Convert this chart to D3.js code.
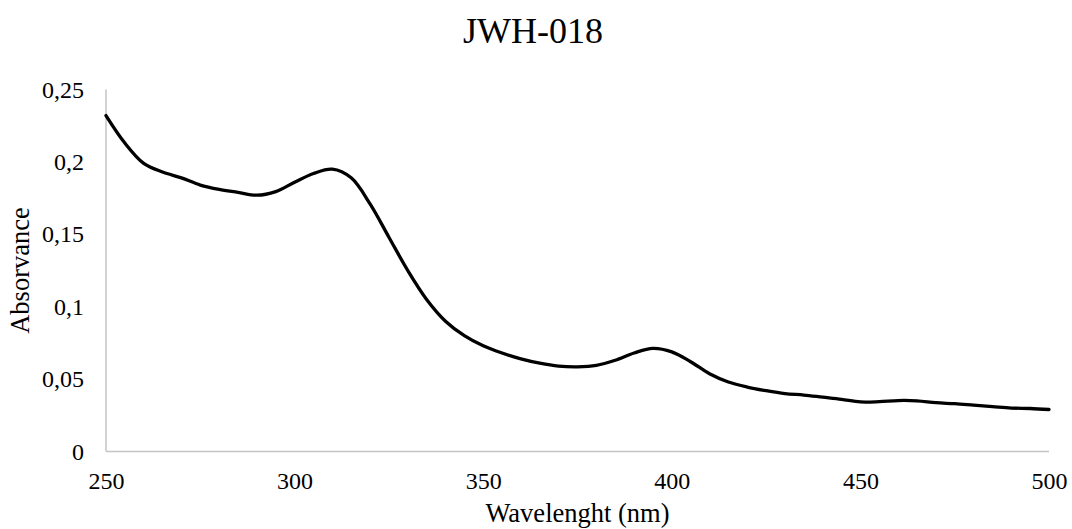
<!DOCTYPE html>
<html>
<head>
<meta charset="utf-8">
<script src="https://cdn.jsdelivr.net/npm/d3@7"></script>
<style>
  html, body { margin: 0; padding: 0; background: #fff; }
  svg { display: block; }
  text { font-family: "Liberation Serif", "Times New Roman", serif; fill: #000; }
</style>
</head>
<body>
<svg id="chart" width="1072" height="529"></svg>
<script>
const title = "JWH-018";
const xTitle = "Wavelenght (nm)";
const yTitle = "Absorvance";

const wavelengths = [250,255,260,265,270,275,280,285,290,295,300,305,310,315,320,325,330,335,340,345,350,355,360,365,370,375,380,385,390,395,400,405,410,415,420,425,430,435,440,445,450,455,460,465,470,475,480,485,490,495,500];
const absorbance = [0.232,0.213,0.199,0.193,0.189,0.184,0.181,0.179,0.177,0.1795,0.186,0.192,0.195,0.189,0.171,0.148,0.125,0.105,0.090,0.080,0.073,0.068,0.064,0.061,0.059,0.0585,0.0595,0.063,0.068,0.0712,0.0688,0.062,0.0537,0.048,0.0445,0.042,0.040,0.039,0.0375,0.036,0.0342,0.0344,0.0352,0.035,0.0337,0.033,0.032,0.031,0.030,0.0297,0.029];

const xTicks = [250,300,350,400,450,500];
const yTicks = [0,0.05,0.1,0.15,0.2,0.25];
const yTickLabels = ["0","0,05","0,1","0,15","0,2","0,25"];

(function () {
const svg = d3.select("#chart");
const mLeft = 106, mRight = 1049, mTop = 89.5, mBottom = 451.5;

const x = d3.scaleLinear().domain([250, 500]).range([mLeft, mRight]);
const y = d3.scaleLinear().domain([0, 0.25]).range([mBottom, mTop]);

// axes lines
svg.append("line").attr("x1", mLeft).attr("x2", mRight).attr("y1", mBottom).attr("y2", mBottom)
  .attr("stroke", "#c4c4c4").attr("stroke-width", 1.5);
svg.append("line").attr("x1", mLeft).attr("x2", mLeft).attr("y1", mTop).attr("y2", mBottom)
  .attr("stroke", "#c4c4c4").attr("stroke-width", 1.5);

// x tick labels
const xAxis = d3.axisBottom(x).tickValues(xTicks).tickSize(0).tickPadding(20).tickFormat(d3.format("d"));
const gx = svg.append("g").attr("transform", `translate(0,${mBottom})`).call(xAxis);
gx.select(".domain").remove();
gx.selectAll("text").attr("font-size", 24).attr("font-family", "Liberation Serif, serif").attr("fill", "#000");

// y tick labels
const yAxis = d3.axisLeft(y).tickValues(yTicks).tickSize(0).tickPadding(22)
  .tickFormat((d, i) => yTickLabels[i]);
const gy = svg.append("g").attr("transform", `translate(${mLeft},0)`).call(yAxis);
gy.select(".domain").remove();
gy.selectAll("text").attr("font-size", 24).attr("font-family", "Liberation Serif, serif").attr("fill", "#000");

// line
const data = wavelengths.map((w, i) => ({w, a: absorbance[i]}));
const line = d3.line().x(d => x(d.w)).y(d => y(d.a)).curve(d3.curveCatmullRom.alpha(0.5));
svg.append("path").datum(data).attr("d", line)
  .attr("fill", "none").attr("stroke", "#000").attr("stroke-width", 3.3)
  .attr("stroke-linejoin", "round").attr("stroke-linecap", "round");

// title
svg.append("text").attr("x", 533).attr("y", 43).attr("text-anchor", "middle")
  .attr("font-size", 36).text(title);

// axis titles
svg.append("text").attr("x", (mLeft + mRight) / 2).attr("y", 522).attr("text-anchor", "middle")
  .attr("font-size", 26.5).text(xTitle);
svg.append("text").attr("transform", `translate(29,${(mTop + mBottom) / 2}) rotate(-90)`)
  .attr("text-anchor", "middle").attr("font-size", 26.5).text(yTitle);
})();
</script>
</body>
</html>
